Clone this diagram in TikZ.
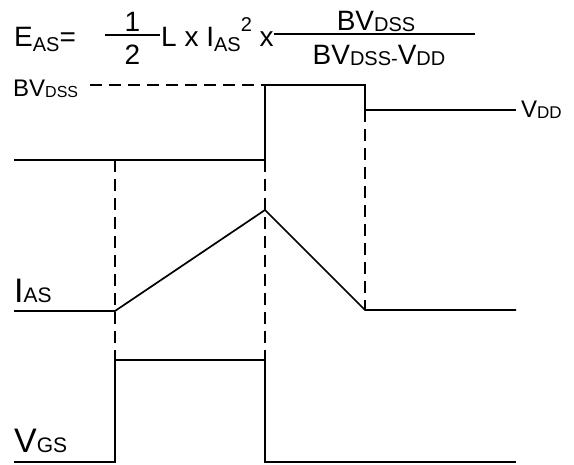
\documentclass[tikz,border=0pt]{standalone}
\usepackage{fontspec}
\setmainfont{Liberation Sans}
\newcommand\fs[1]{\fontsize{#1}{#1}\selectfont}
\begin{document}
\begin{tikzpicture}[x=1pt,y=-1pt,
  wave/.style={line width=1.7pt, line join=miter},
  guide/.style={line width=1.5pt, dash pattern=on 12pt off 7pt},
  bar/.style={line width=1.3pt},
  txt/.style={inner sep=0pt, anchor=base west},
]
\useasboundingbox (0,0) rectangle (574,465);

% equation
\node[txt] (eas) at (14,47) {\fs{28}E\raisebox{-5pt}{\fs{20}AS}=};
\coordinate (h1) at (105,35);
\coordinate (h2) at (160,35);
\draw[bar] (h1) -- (h2);
\node[txt, anchor=base] (one) at (132.5,32) {\fs{28}1};
\node[txt, anchor=base] (two) at (132.5,65) {\fs{28}2};
\node[txt] (mid) at (161,47) {\fs{28}L x I\raisebox{-5pt}{\fs{20}AS}\raisebox{15pt}{\fs{20}2} x};
\coordinate (b1) at (mid.base east |- 0,34);
\coordinate (b2) at (475,34);
\draw[bar] (b1) -- (b2);
\node[txt, anchor=base] (num) at (376,31) {\fs{28}BV\raisebox{-1pt}{\fs{20}DSS}};
\node[txt, anchor=base] (den) at (379,65) {\fs{28}BV\raisebox{-1pt}{\fs{20}DSS-}V\raisebox{-1pt}{\fs{20}DD}};

% labels
\node[txt] (bvl) at (13,97) {\fs{24}BV\raisebox{-1pt}{\fs{16}DSS}};
\node[txt] (vdd) at (521,118) {\fs{24}V\raisebox{-1pt}{\fs{17}DD}};
\node[txt] (ias) at (14,303) {\fs{34}I\fs{21}AS};
\node[txt] (vgs) at (14,453) {\fs{34}V\fs{21}GS};

% key points
\coordinate (t1) at (115,160);
\coordinate (t2) at (265,160);
\coordinate (t3) at (365,110);
\coordinate (g1) at (115,360);
\coordinate (g2) at (265,360);
\coordinate (i3) at (365,310);
\coordinate (bvs) at (90,85);
\coordinate (bve) at (265,85);

% guides
\draw[guide] (bvs) -- (bve);
\draw[guide] (t1) -- (g1);
\draw[guide] (t2) -- (g2);
\draw[guide] (t3) -- (i3);

% waveforms
\draw[wave] (14,160) -- (t2) -- (bve) -- (365,85) -- (t3) -- (516,110);
\draw[wave] (14,311) -- (115,311) -- (265,210) -- (i3) -- (516,310);
\draw[wave] (14,462) -- (115,462) -- (g1) -- (g2) -- (265,462) -- (516,462);
\end{tikzpicture}
\end{document}
